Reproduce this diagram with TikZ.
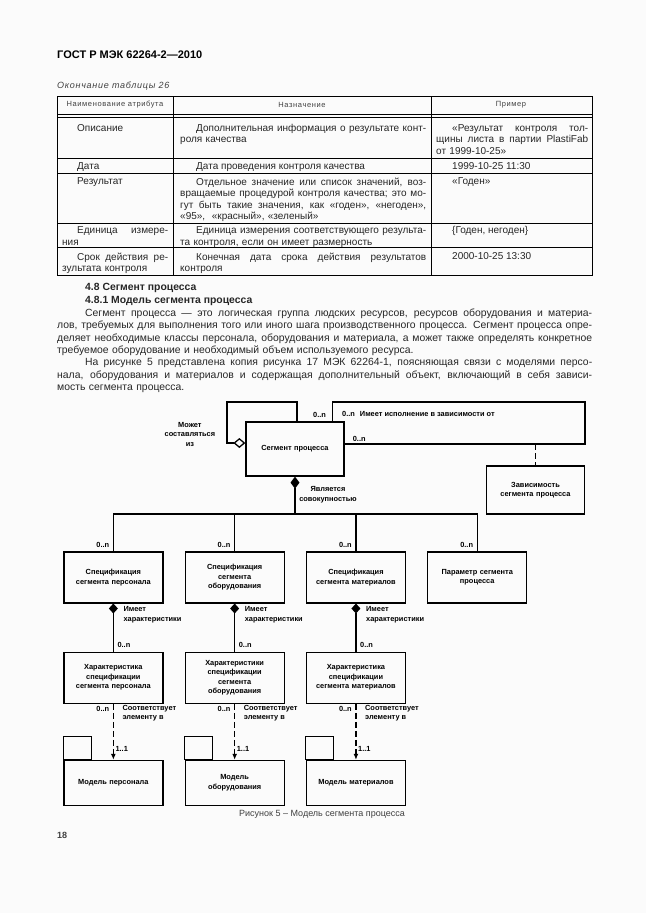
\documentclass[tikz,border=0pt]{standalone}
\usepackage{fontspec}
\setmainfont{Liberation Sans}
\newfontfamily\headfont[LetterSpace=8]{Liberation Sans}
\usepackage{tikz}
\usetikzlibrary{arrows.meta}

\newcommand{\diagfont}{\fontsize{7.4}{9.5}\selectfont\bfseries}
\newcommand{\tabfont}{\fontsize{10}{11.5}\selectfont}
\newcommand{\bodyfont}{\fontsize{10.4}{12.5}\selectfont}
\newcommand{\jl}[2]{{\spaceskip=0pt\xspaceskip=0pt\makebox[#1][s]{#2}}}

\begin{document}
\begin{tikzpicture}[x=1pt,y=-1pt]
\tikzstyle{block} = [rectangle, draw=black, line width=1.3pt, minimum width=99pt, minimum height=51pt, text width=94pt, align=center, font=\diagfont, inner sep=2pt]
\tikzstyle{package} = [rectangle, draw=black, line width=1.3pt, minimum width=99pt, minimum height=45pt, text width=94pt, align=center, font=\diagfont, inner sep=2pt]
\tikzstyle{line} = [draw, line width=1.3pt]
\tikzstyle{dep} = [draw, line width=1.3pt, dash pattern=on 6pt off 3pt]
\tikzstyle{lbl} = [font=\diagfont, inner sep=0pt, align=left]
\tikzstyle{cell} = [anchor=north west, inner sep=0pt, align=left, font=\tabfont, text=black!85]
\tikzstyle{para} = [anchor=north west, inner sep=0pt, align=left, font=\bodyfont, text=black!85, text width=535pt]
\tikzstyle{tabrule} = [draw, line width=0.7pt]

\fill[gray!3] (0,0) rectangle (646,913);
\useasboundingbox (0,0) rectangle (646,913);

% page head
\node[anchor=north west, inner sep=0pt, font=\fontsize{11}{13}\selectfont\bfseries] (gost) at (57,51) {ГОСТ Р МЭК 62264-2—2010};
\node[anchor=north west, inner sep=0pt, font=\headfont\fontsize{9}{11}\selectfont\itshape, text=black!75] (tabcont) at (57,81.5) {Окончание таблицы 26};

% table
\path[tabrule] (57,96) rectangle (592,275);
\foreach \y in {114,117,158,173,223,247}
  \path[tabrule] (57,\y) -- (592,\y);
\foreach \x in {173,431}
  \path[tabrule] (\x,96) -- (\x,275);

\node[inner sep=0pt, font=\headfont\fontsize{7.5}{9}\selectfont, text=black!75] (h1) at (115,105) {Наименование атрибута};
\node[inner sep=0pt, font=\headfont\fontsize{7.5}{9}\selectfont, text=black!75] (h2) at (302,105) {Назначение};
\node[inner sep=0pt, font=\headfont\fontsize{7.5}{9}\selectfont, text=black!75] (h3) at (511,105) {Пример};

% row 1
\node[cell] (c11) at (62,124) {\hspace*{15pt}Описание};
\node[cell, text width=246pt] (c12) at (180,124) {\jl{246pt}{\hspace*{16pt}Дополнительная информация о результате конт-}\\роля качества};
\node[cell, text width=152pt] (c13) at (436,124) {\jl{152pt}{\hspace*{16pt}«Результат контроля тол-}\\\jl{152pt}{щины листа в партии PlastiFab}\\от 1999-10-25»};
% row 2
\node[cell] (c21) at (62,162.5) {\hspace*{15pt}Дата};
\node[cell] (c22) at (180,162.5) {\hspace*{16pt}Дата проведения контроля качества};
\node[cell] (c23) at (436,162.5) {\hspace*{16pt}1999-10-25 11:30};
% row 3
\node[cell] (c31) at (62,177.5) {\hspace*{15pt}Результат};
\node[cell, text width=246pt] (c32) at (180,177.5) {\jl{246pt}{\hspace*{16pt}Отдельное значение или список значений, воз-}\\\jl{246pt}{вращаемые процедурой контроля качества; это мо-}\\\jl{246pt}{гут быть такие значения, как «годен», «негоден»,}\\«95»,\ \ «красный», «зеленый»};
\node[cell] (c33) at (436,177.5) {\hspace*{16pt}«Годен»};
% row 4
\node[cell, text width=106pt] (c41) at (62,226.5) {\jl{106pt}{\hspace*{15pt}Единица измере-}\\ния};
\node[cell, text width=246pt] (c42) at (180,226.5) {\jl{246pt}{\hspace*{16pt}Единица измерения соответствующего результа-}\\та контроля, если он имеет размерность};
\node[cell] (c43) at (436,226.5) {\hspace*{16pt}\{Годен, негоден\}};
% row 5
\node[cell, text width=106pt] (c51) at (62,252.5) {\jl{106pt}{\hspace*{15pt}Срок действия ре-}\\зультата контроля};
\node[cell, text width=246pt] (c52) at (180,252.5) {\jl{246pt}{\hspace*{16pt}Конечная дата срока действия результатов}\\контроля};
\node[cell] (c53) at (436,252.5) {\hspace*{16pt}2000-10-25 13:30};

% text
\node[anchor=north west, inner sep=0pt, font=\bodyfont\bfseries, text=black!85] (sec) at (85,283.5) {4.8 Сегмент процесса};
\node[anchor=north west, inner sep=0pt, font=\bodyfont\bfseries, text=black!85] (subsec) at (85,296) {4.8.1 Модель сегмента процесса};
\node[para] (para1) at (57,308.4) {\jl{535pt}{\hspace*{28pt}Сегмент процесса — это логическая группа людских ресурсов, ресурсов оборудования и материа-}\\
\jl{535pt}{лов, требуемых для выполнения того или иного шага производственного процесса. Сегмент процесса опре-}\\
\jl{535pt}{деляет необходимые классы персонала, оборудования и материала, а может также определять конкретное}\\
требуемое оборудование и необходимый объем используемого ресурса.};
\node[para] (para2) at (57,358.4) {\jl{535pt}{\hspace*{28pt}На рисунке 5 представлена копия рисунка 17 МЭК 62264-1, поясняющая связи с моделями персо-}\\
\jl{535pt}{нала, оборудования и материалов и содержащая дополнительный объект, включающий в себя зависи-}\\
мость сегмента процесса.};

% diagram
\node[block, minimum width=96pt, minimum height=54pt] (seg) at (295,449) {Сегмент процесса};
\node[block, minimum width=97pt, minimum height=48pt] (dep) at (535.5,490) {Зависимость\\сегмента процесса};
\coordinate (looptop) at (227,402);
\coordinate (depcorner) at (585,402);
\coordinate (depjoin) at (535.5,444);
\coordinate (bus) at (295,514);

\matrix (boxes) [column sep=21pt, row sep=48pt, anchor=north west, inner sep=0pt] at (63,551)
{
	% row 1
	\node [block] (specper) {Спецификация\\сегмента персонала}; &
	\node [block] (specequ) {Спецификация\\сегмента\\оборудования}; &
	\node [block] (specmat) {Спецификация\\сегмента материалов}; &
	\node [block] (param) {Параметр сегмента\\процесса}; \\
	% row 2
	\node [block] (charper) {Характеристика\\спецификации\\сегмента персонала}; &
	\node [block] (charequ) {Характеристики\\спецификации\\сегмента\\оборудования}; &
	\node [block] (charmat) {Характеристика\\спецификации\\сегмента материалов}; & \\[8pt]
	% row 3
	\node [package] (modper) {Модель персонала}; &
	\node [package] (modequ) {Модель\\оборудования}; &
	\node [package] (modmat) {Модель материалов}; & \\
};
\foreach \p in {modper,modequ,modmat}
  \draw[line] (\p.north west) rectangle ([xshift=28pt,yshift=23pt]\p.north west);

% connectors
\draw[line, {Diamond[open, length=12pt, width=10pt]}-] ([yshift=6pt]seg.west) -| (looptop) -| ([xshift=2pt]seg.north);
\draw[line] ([xshift=-12pt]seg.north east) |- (depcorner) |- ([yshift=5pt]seg.east);
\draw[dep] (depjoin) -- (dep);
\draw[line, {Diamond[length=12pt, width=9pt]}-] (seg) -- (bus);
\draw[line] (specper.north) |- (bus) -| (param.north);
\draw[line] (specequ.north) -- (specequ.north |- bus);
\draw[line] (specmat.north) -- (specmat.north |- bus);
\foreach \a/\b in {specper/charper, specequ/charequ, specmat/charmat}
  \draw[line, {Diamond[length=10pt, width=9pt]}-] (\a) -- (\b);
\foreach \a/\b in {charper/modper, charequ/modequ, charmat/modmat}
  \draw[dep, -{Latex[length=6pt, width=5pt]}] (\a) -- (\b);

% labels
\node[lbl, align=center, anchor=east] (madeof) at ([xshift=-30pt,yshift=15pt]seg.west) {Может\\составляться\\из};
\node[lbl, anchor=south west] (loopmult) at ([xshift=18pt,yshift=4pt]seg.north) {0..n};
\node[lbl, anchor=west] (execdep) at (342,414) {0..n\hspace{5pt}Имеет исполнение в зависимости от};
\node[lbl, anchor=south west] (depmult) at ([xshift=8pt,yshift=7pt]seg.east) {0..n};
\node[lbl, align=center] (collect) at ([xshift=33pt,yshift=-18pt]seg.south) {Является\\совокупностью};
\foreach \a in {specper,specequ,specmat,param}
  \node[lbl, anchor=south east] (\a-mult) at ([xshift=-4pt,yshift=3.5pt]\a.north) {0..n};
\foreach \a in {specper,specequ,specmat}
  \node[lbl, anchor=north west] (\a-has) at ([xshift=10pt,yshift=-3pt]\a.south) {Имеет\\характеристики};
\foreach \a in {charper,charequ,charmat}
{
  \node[lbl, anchor=south west] (\a-mult) at ([xshift=4pt,yshift=4pt]\a.north) {0..n};
  \node[lbl, anchor=north east] (\a-low) at ([xshift=-4pt,yshift=-2pt]\a.south) {0..n};
  \node[lbl, anchor=north west] (\a-corr) at ([xshift=9pt,yshift=-1pt]\a.south) {Соответствует\\элементу в};
}
\foreach \a in {modper,modequ,modmat}
  \node[lbl, anchor=south west] (\a-mult) at ([xshift=2pt,yshift=8pt]\a.north) {1..1};

% caption and page number
\node[inner sep=0pt, font=\fontsize{9}{11}\selectfont, text=black!75] (caption) at (322,814) {Рисунок 5 – Модель сегмента процесса};
\node[anchor=north west, inner sep=0pt, font=\fontsize{9}{11}\selectfont\bfseries, text=black!75] (pageno) at (57,832) {18};
\end{tikzpicture}
\end{document}
